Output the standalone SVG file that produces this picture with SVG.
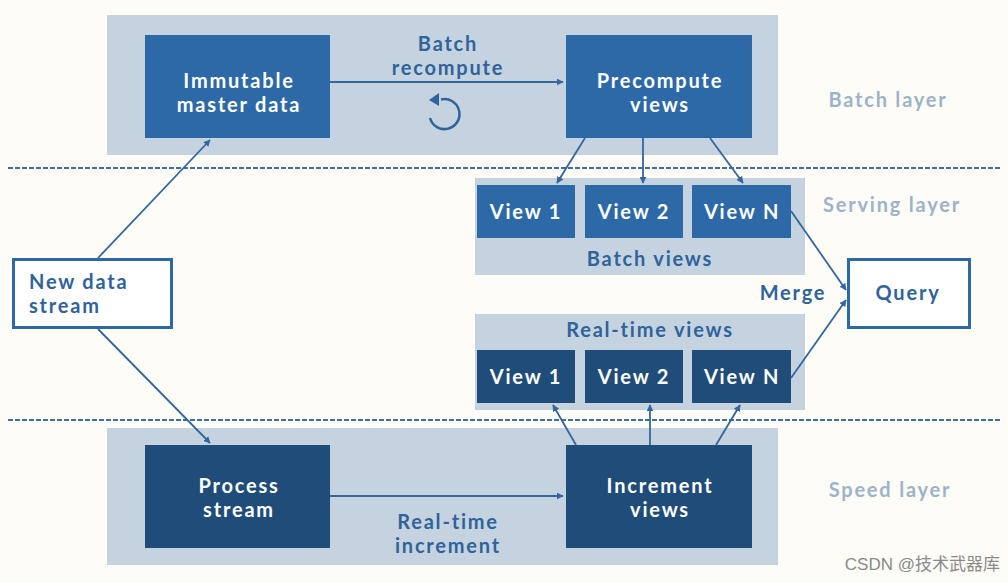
<svg xmlns="http://www.w3.org/2000/svg" width="1008" height="583" viewBox="0 0 1008 583">
<defs>
<marker id="ah" viewBox="0 0 10 10" refX="9" refY="5" markerWidth="7" markerHeight="7" orient="auto" markerUnits="userSpaceOnUse">
<path d="M0,0 L10,5 L0,10 z" fill="#33679b"/>
</marker>
<style>
.panel{fill:#c5d3e1}
.bbox{fill:#2c69a6}
.sbox{fill:#1f4c78}
.wt,.bt,.lt{font-family:Lato,"Open Sans",sans-serif;font-weight:bold;font-size:20px;letter-spacing:1.8px;text-anchor:middle}
.wt{fill:#ffffff}
.bt{fill:#2f639a}
.lt{fill:#9db3c9}
.con{stroke:#33679b;stroke-width:1.8;fill:none;marker-end:url(#ah)}
.dash{stroke:#3f6f9f;stroke-width:2;stroke-dasharray:5 2;fill:none}
</style>
</defs>
<rect x="0" y="0" width="1008" height="583" fill="#fdfcf7"/>

<g id="panels">
<rect class="panel" x="107" y="15" width="671" height="140"/>
<rect class="panel" x="475" y="178" width="330" height="97"/>
<rect class="panel" x="475" y="314" width="330" height="96"/>
<rect class="panel" x="107" y="428" width="671" height="137"/>
</g>

<g id="dividers">
<line class="dash" x1="8" y1="168" x2="1000" y2="168"/>
<line class="dash" x1="8" y1="420" x2="1000" y2="420"/>
</g>

<g id="layer-labels">
<text class="lt" x="888" y="107">Batch layer</text>
<text class="lt" x="892" y="212">Serving layer</text>
<text class="lt" x="890" y="497">Speed layer</text>
</g>

<g id="immutable">
<rect class="bbox" x="145" y="35" width="185" height="103"/>
<text class="wt" x="239" y="88">Immutable</text>
<text class="wt" x="239" y="112">master data</text>
</g>

<g id="precompute">
<rect class="bbox" x="566" y="35" width="186" height="103"/>
<text class="wt" x="660" y="88">Precompute</text>
<text class="wt" x="660" y="112">views</text>
</g>

<g id="batch-recompute-label">
<text class="bt" x="448" y="51">Batch</text>
<text class="bt" x="448" y="75">recompute</text>
<path d="M430,118 A15,15 0 1 0 441,99.5" fill="none" stroke="#2f639a" stroke-width="2.5"/>
<path d="M429,100 L439,93 L439,106 z" fill="#2f639a"/>
</g>

<g id="batch-views">
<text class="bt" x="650" y="266">Batch views</text>
</g>
<g id="bview1"><rect class="bbox" x="477" y="185" width="98" height="53"/><text class="wt" x="526" y="219">View 1</text></g>
<g id="bview2"><rect class="bbox" x="585" y="185" width="98" height="53"/><text class="wt" x="634" y="219">View 2</text></g>
<g id="bviewN"><rect class="bbox" x="692" y="185" width="99" height="53"/><text class="wt" x="742" y="219">View N</text></g>

<g id="realtime-views">
<text class="bt" x="650" y="337">Real-time views</text>
</g>
<g id="rview1"><rect class="sbox" x="477" y="350" width="98" height="53"/><text class="wt" x="526" y="384">View 1</text></g>
<g id="rview2"><rect class="sbox" x="585" y="350" width="98" height="53"/><text class="wt" x="634" y="384">View 2</text></g>
<g id="rviewN"><rect class="sbox" x="692" y="350" width="99" height="53"/><text class="wt" x="742" y="384">View N</text></g>

<g id="new-data">
<rect x="13.5" y="259.5" width="158" height="68" fill="#ffffff" stroke="#2c69a6" stroke-width="3"/>
<text class="bt" x="29" y="289" style="text-anchor:start">New data</text>
<text class="bt" x="29" y="313" style="text-anchor:start">stream</text>
</g>

<g id="query">
<rect x="848.5" y="259.5" width="121" height="68" fill="#ffffff" stroke="#2c69a6" stroke-width="3"/>
<text class="bt" x="908" y="300">Query</text>
</g>

<g id="merge-label">
<text class="bt" x="793" y="300">Merge</text>
</g>

<g id="process">
<rect class="sbox" x="145" y="445" width="185" height="103"/>
<text class="wt" x="239" y="493">Process</text>
<text class="wt" x="239" y="517">stream</text>
</g>

<g id="increment">
<rect class="sbox" x="566" y="445" width="186" height="103"/>
<text class="wt" x="660" y="493">Increment</text>
<text class="wt" x="660" y="517">views</text>
</g>

<g id="realtime-increment-label">
<text class="bt" x="448" y="529">Real-time</text>
<text class="bt" x="448" y="553">increment</text>
</g>

<g id="connectors">
<line class="con" x1="330" y1="82" x2="563" y2="82"/>
<line class="con" x1="330" y1="496" x2="563" y2="496"/>
<line class="con" x1="98" y1="258" x2="210" y2="140"/>
<line class="con" x1="98" y1="329" x2="210" y2="443"/>
<line class="con" x1="585" y1="138" x2="557" y2="183"/>
<line class="con" x1="643" y1="138" x2="643" y2="183"/>
<line class="con" x1="710" y1="138" x2="743" y2="183"/>
<line class="con" x1="576" y1="445" x2="553" y2="405"/>
<line class="con" x1="650" y1="445" x2="650" y2="405"/>
<line class="con" x1="716" y1="445" x2="740" y2="405"/>
<line class="con" x1="791" y1="211" x2="846" y2="290"/>
<line class="con" x1="791" y1="378" x2="846" y2="300"/>
</g>

<g id="watermark">
<text x="1000" y="570" font-family="'Liberation Sans','Noto Sans CJK SC',sans-serif" font-size="17" fill="#8a8a8a" text-anchor="end">CSDN @技术武器库</text>
</g>
</svg>
